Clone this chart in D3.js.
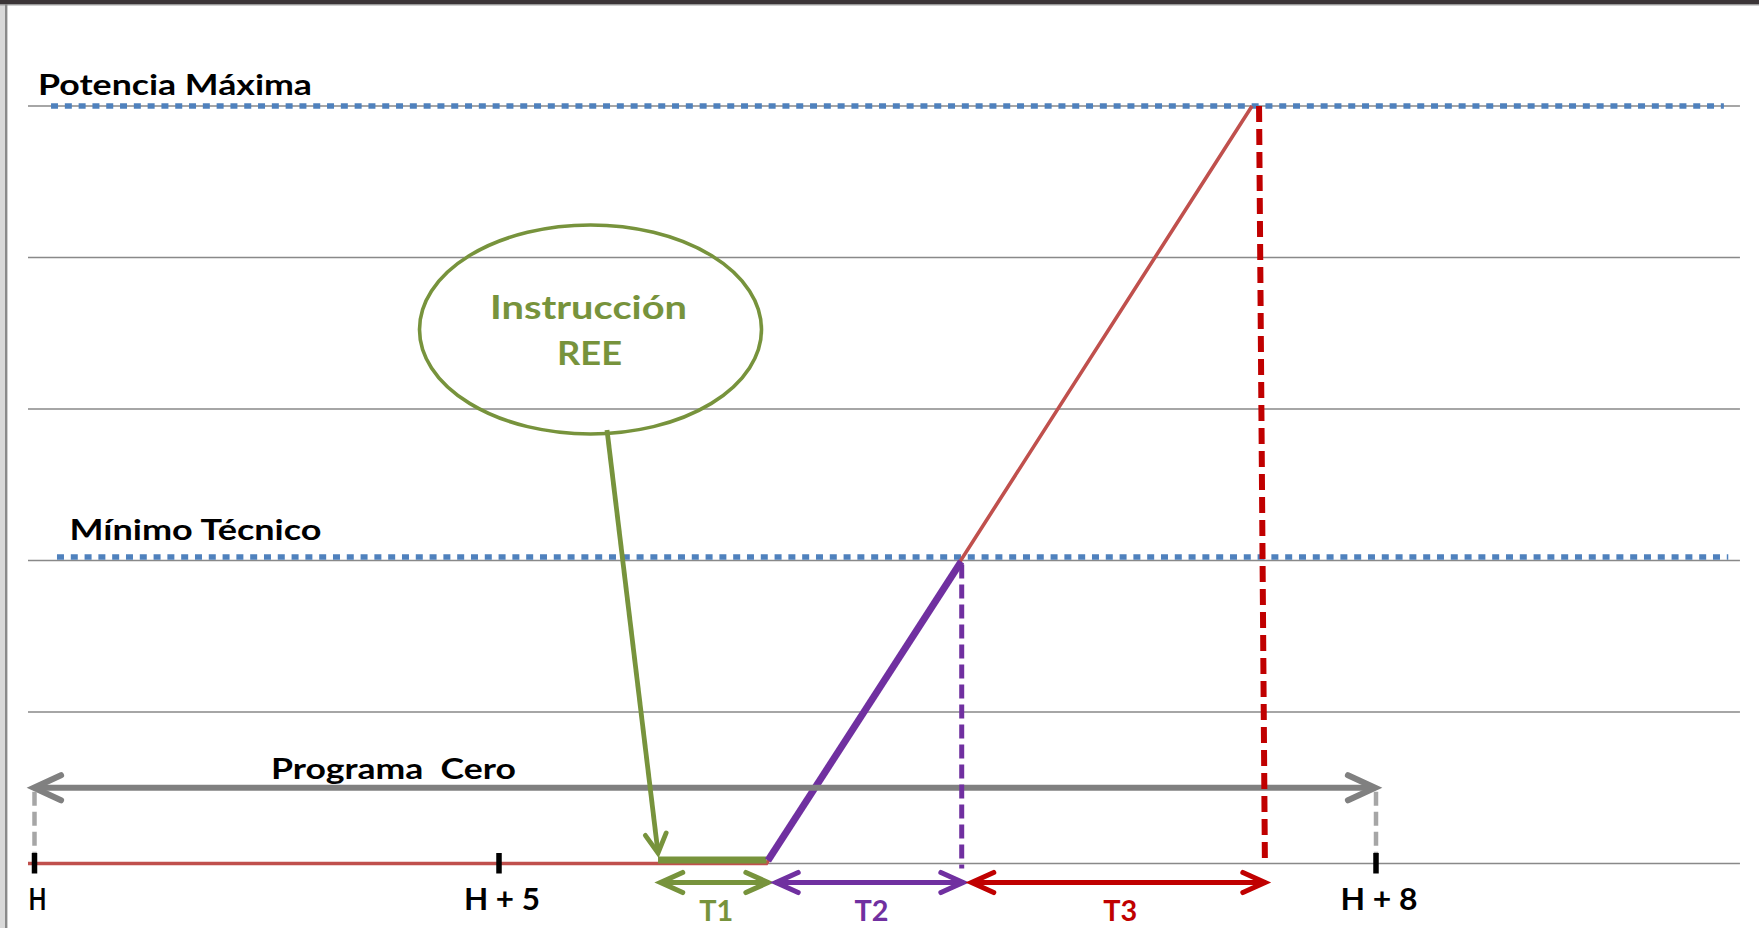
<!DOCTYPE html>
<html>
<head>
<meta charset="utf-8">
<script src="https://cdn.jsdelivr.net/npm/d3@7"></script>
<style>
  html, body { margin: 0; padding: 0; background: #ffffff; }
  svg { display: block; }
  text { font-family: Lato, "Open Sans", "Noto Sans", sans-serif; font-weight: 700; white-space: pre; }
</style>
</head>
<body>
<script>
// ---------------- DATA ----------------
const tickHours = [0, 5, 8];
const tickLabels = ["H", "H + 5", "H + 8"];
const gridLevels = [0, 1, 2, 3, 4, 5];
const levelNames = ["Potencia Máxima", "Mínimo Técnico"];
const levelValues = [5, 2];
const profileHours = [-0.07, 5.915, 7.576];   // power programme of the unit
const profilePower = [0, 0, 5];
const instructionHour = 5.544;                 // REE instruction arrives
const instructionLabel = ["Instrucción", "REE"];
const phaseNames = ["T1", "T2", "T3"];
const phaseStart = [5.553, 5.948, 6.617];
const phaseEnd = [5.92, 6.587, 7.62];
const programHours = [0, 8];
const programLevel = 0.5;
const programLabel = "Programa  Cero";

// ---------------- LAYOUT / STYLE ----------------
const W = 1759, H = 928;
const hourExtent = [-0.07, 9.245];
const colors = {
  grid: "#898989", dotted: "#4f81bd", ramp: "#c0504d", green: "#77933c",
  purple: "#7030a0", red: "#c00000", gray: "#808080", lightGray: "#a6a6a6"
};
const phaseColors = [colors.green, colors.purple, colors.red];

const svg = d3.select("body").append("svg").attr("width", W).attr("height", H);

const x = d3.scaleLinear().domain([0, 5, 8]).range([34.5, 499, 1376]);
const y = d3.scaleLinear().domain([0, 5]).range([863.5, 106]);

// frame
svg.append("rect").attr("x", 0).attr("y", 0).attr("width", W).attr("height", H).attr("fill", "#ffffff");
svg.append("rect").attr("x", 0).attr("y", 0).attr("width", 5).attr("height", H).attr("fill", "#d9d9d9");
svg.append("rect").attr("x", 5).attr("y", 0).attr("width", 2.4).attr("height", H).attr("fill", "#8a8a8a");
svg.append("rect").attr("x", 0).attr("y", 0).attr("width", W).attr("height", 4.2).attr("fill", "#3b3537");
svg.append("rect").attr("x", 0).attr("y", 4.2).attr("width", W).attr("height", 1.2).attr("fill", "#8a8a8a");

// gridlines
svg.append("g").selectAll("line").data(gridLevels).join("line")
  .attr("x1", x(hourExtent[0])).attr("x2", x(hourExtent[1]))
  .attr("y1", d => y(d)).attr("y2", d => y(d))
  .attr("stroke", colors.grid).attr("stroke-width", 1.4);

// dotted level lines
const levelLayout = [
  { x1: 0.178, x2: 9.19, dy: 0, labelX: 38, labelDy: -11, len: 274 },
  { x1: 0.242, x2: 9.205, dy: -3.5, labelX: 69.5, labelDy: -20.5, len: 252 }
];
svg.append("g").selectAll("line").data(levelValues).join("line")
  .attr("x1", (d, i) => x(levelLayout[i].x1)).attr("x2", (d, i) => x(levelLayout[i].x2))
  .attr("y1", (d, i) => y(d) + levelLayout[i].dy).attr("y2", (d, i) => y(d) + levelLayout[i].dy)
  .attr("stroke", colors.dotted).attr("stroke-width", 5.5).attr("stroke-dasharray", "7 6.8");

svg.append("g").selectAll("text").data(levelNames).join("text")
  .attr("x", (d, i) => levelLayout[i].labelX)
  .attr("y", (d, i) => y(levelValues[i]) + levelLayout[i].labelDy)
  .attr("font-size", 28.5).attr("fill", "#000")
  .attr("textLength", (d, i) => levelLayout[i].len).attr("lengthAdjust", "spacingAndGlyphs")
  .text(d => d);

// power profile (red)
const profile = profileHours.map((h, i) => [h, profilePower[i]]);
svg.append("path").datum(profile)
  .attr("d", d3.line().x(d => x(d[0])).y(d => y(d[1])))
  .attr("fill", "none").attr("stroke", colors.ramp).attr("stroke-width", 3.6)
  .attr("stroke-linejoin", "miter");

// green segment: waiting after instruction (T1)
svg.append("line")
  .attr("x1", x(instructionHour)).attr("x2", x(profileHours[1]))
  .attr("y1", y(0) - 3.5).attr("y2", y(0) - 3.5)
  .attr("stroke", colors.green).attr("stroke-width", 7);

// purple ramp up to Mínimo Técnico
const minLevel = levelValues[1], maxLevel = levelValues[0];
const hMin = profileHours[1] + (profileHours[2] - profileHours[1]) * (minLevel / maxLevel);
svg.append("line")
  .attr("x1", x(profileHours[1]) + 1.5).attr("y1", y(0) - 3)
  .attr("x2", x(hMin) + 0.5).attr("y2", y(minLevel) + 1)
  .attr("stroke", colors.purple).attr("stroke-width", 7);

// arrowhead helper
function chevron(tx, ty, angle, len, half) {
  const a = Math.atan2(half, len), L = Math.hypot(len, half);
  const p = d3.path();
  p.moveTo(tx - L * Math.cos(angle - a), ty - L * Math.sin(angle - a));
  p.lineTo(tx, ty);
  p.lineTo(tx - L * Math.cos(angle + a), ty - L * Math.sin(angle + a));
  return p.toString();
}

// Programa Cero (gray double arrow)
const gy = y(programLevel);
const gx1 = x(programHours[0]) - 0.5, gx2 = x(programHours[1]) - 1;
const gArrow = svg.append("g").attr("stroke", colors.gray).attr("fill", "none").attr("stroke-width", 6.2);
gArrow.append("line").attr("x1", gx1 + 2).attr("x2", gx2 - 2).attr("y1", gy).attr("y2", gy);
gArrow.append("path").attr("d", chevron(gx1, gy, Math.PI, 27, 12.5)).attr("stroke-linecap", "round").attr("stroke-linejoin", "miter");
gArrow.append("path").attr("d", chevron(gx2, gy, 0, 27, 12.5)).attr("stroke-linecap", "round").attr("stroke-linejoin", "miter");

svg.append("g").selectAll("line").data(programHours).join("line")
  .attr("x1", d => x(d)).attr("x2", d => x(d))
  .attr("y1", gy + 4).attr("y2", y(0) - 8)
  .attr("stroke", colors.lightGray).attr("stroke-width", 4.5).attr("stroke-dasharray", "14 6");

svg.append("text")
  .attr("x", x(2.545)).attr("y", gy - 9)
  .attr("font-size", 28.5).attr("fill", "#000")
  .attr("textLength", 245).attr("lengthAdjust", "spacingAndGlyphs")
  .text(programLabel);

// vertical dashed lines at Mínimo Técnico and Potencia Máxima
svg.append("line")
  .attr("x1", x(hMin) + 1).attr("x2", x(hMin) + 1)
  .attr("y1", y(minLevel) + 4).attr("y2", y(0) + 5)
  .attr("stroke", colors.purple).attr("stroke-width", 5).attr("stroke-dasharray", "14 6");
svg.append("line")
  .attr("x1", x(profileHours[2]) + 7).attr("y1", y(maxLevel))
  .attr("x2", x(phaseEnd[2])).attr("y2", y(0))
  .attr("stroke", colors.red).attr("stroke-width", 6).attr("stroke-dasharray", "16 7");

// hour ticks
svg.append("g").selectAll("line").data(tickHours).join("line")
  .attr("x1", d => x(d)).attr("x2", d => x(d))
  .attr("y1", y(0) - 10.5).attr("y2", y(0) + 10)
  .attr("stroke", "#000").attr("stroke-width", 5.5);

const tickLens = [18, 76, 77];
svg.append("g").selectAll("text").data(tickLabels).join("text")
  .attr("x", (d, i) => x(tickHours[i]) + 3).attr("y", 910)
  .attr("text-anchor", "middle").attr("font-size", 30).attr("fill", "#000")
  .attr("textLength", (d, i) => tickLens[i]).attr("lengthAdjust", "spacingAndGlyphs")
  .text(d => d);

// phase arrows T1, T2, T3
const py = 882.5;
const phases = svg.append("g").selectAll("g").data(phaseNames).join("g")
  .attr("stroke", (d, i) => phaseColors[i]).attr("fill", "none").attr("stroke-width", 5.2);
phases.append("line")
  .attr("x1", (d, i) => x(phaseStart[i]) + 2).attr("x2", (d, i) => x(phaseEnd[i]) - 2)
  .attr("y1", py).attr("y2", py);
phases.append("path").attr("d", (d, i) => chevron(x(phaseStart[i]), py, Math.PI, 22, 10))
  .attr("stroke-linecap", "round");
phases.append("path").attr("d", (d, i) => chevron(x(phaseEnd[i]), py, 0, 22, 10))
  .attr("stroke-linecap", "round");
svg.append("g").selectAll("text").data(phaseNames).join("text")
  .attr("x", (d, i) => (x(phaseStart[i]) + x(phaseEnd[i])) / 2 + 2).attr("y", 921)
  .attr("text-anchor", "middle").attr("font-size", 28)
  .attr("fill", (d, i) => phaseColors[i])
  .attr("textLength", 34).attr("lengthAdjust", "spacingAndGlyphs")
  .text(d => d);

// Instrucción REE bubble
const cx = x(5.313), cy = y(3.525), rx = 171, ry = 104.5;
svg.append("ellipse").attr("cx", cx).attr("cy", cy).attr("rx", rx).attr("ry", ry)
  .attr("fill", "none").attr("stroke", colors.green).attr("stroke-width", 3.6);
const instrLens = [197, 65];
svg.append("g").selectAll("text").data(instructionLabel).join("text")
  .attr("x", (d, i) => cx - 2 + i).attr("y", (d, i) => cy - 10 + i * 45.7)
  .attr("text-anchor", "middle").attr("font-size", 33).attr("fill", colors.green)
  .attr("textLength", (d, i) => instrLens[i]).attr("lengthAdjust", "spacingAndGlyphs")
  .text(d => d);

// green pointer arrow from bubble to instruction moment
const sx = cx + 16.5, sy = cy + ry - 4;
const tx = x(instructionHour), ty = y(0) - 10.5;
const ang = Math.atan2(ty - sy, tx - sx);
const gp = svg.append("g").attr("stroke", colors.green).attr("fill", "none").attr("stroke-width", 4.8);
gp.append("line").attr("x1", sx).attr("y1", sy).attr("x2", tx - Math.cos(ang)).attr("y2", ty - Math.sin(ang));
gp.append("path").attr("d", chevron(tx, ty, ang, 19, 10.5)).attr("stroke-linecap", "round");
</script>
</body>
</html>
